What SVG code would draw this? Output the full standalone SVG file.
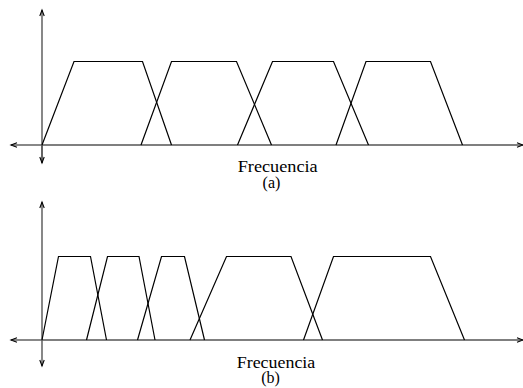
<svg xmlns="http://www.w3.org/2000/svg" width="523" height="388" viewBox="0 0 523 388">
<style>
.ax{stroke:#555;stroke-width:1.4;fill:none}
.tr{stroke:#000;stroke-width:1.2;fill:none;stroke-linejoin:miter}
.t{font-family:'Liberation Serif','Times New Roman',Times,serif;font-size:16px;fill:#000;text-anchor:middle}
</style>
<defs>
<marker id="arr" markerWidth="10" markerHeight="10" refX="8" refY="5" orient="auto" markerUnits="userSpaceOnUse">
<path d="M2,2.8 L8,5 L2,7.2" fill="none" stroke="#000" stroke-width="1.1"/>
</marker>
</defs>
<rect width="523" height="388" fill="#fff"/>
<g id="connectors">
<line class="ax" x1="42" y1="163" x2="42" y2="10" marker-end="url(#arr)"/>
<line class="ax" x1="42" y1="145" x2="42" y2="163" marker-end="url(#arr)"/>
<line class="ax" x1="42" y1="145" x2="11" y2="145" marker-end="url(#arr)"/>
<line class="ax" x1="42" y1="145" x2="523" y2="145" marker-end="url(#arr)"/>
<line class="ax" x1="42" y1="340" x2="42" y2="202" marker-end="url(#arr)"/>
<line class="ax" x1="42" y1="340" x2="42" y2="366" marker-end="url(#arr)"/>
<line class="ax" x1="42" y1="340" x2="11" y2="340" marker-end="url(#arr)"/>
<line class="ax" x1="42" y1="340" x2="523" y2="340" marker-end="url(#arr)"/>
</g>
<g id="panel-a">
<polyline class="tr" points="42,145 74,61.5 142.5,61.5 171.5,145"/>
<polyline class="tr" points="141,145 171.5,61.5 236.5,61.5 271.5,145"/>
<polyline class="tr" points="237.5,145 272.5,61.5 333.5,61.5 368.5,145"/>
<polyline class="tr" points="336,145 366,61.5 430.5,61.5 462.5,145"/>
</g>
<g id="panel-b">
<polyline class="tr" points="42,340 58.5,256.5 90.5,256.5 106.5,340"/>
<polyline class="tr" points="86.5,340 107.5,256.5 139,256.5 155,340"/>
<polyline class="tr" points="137.5,340 161.5,256.5 184.5,256.5 204.5,340"/>
<polyline class="tr" points="190,340 226.5,256.5 291,256.5 322.5,340"/>
<polyline class="tr" points="303.5,340 333.5,256.5 430.5,256.5 464.5,340"/>
</g>
<g id="labels">
<text class="t" x="277.7" y="172" textLength="80" lengthAdjust="spacingAndGlyphs">Frecuencia</text>
<text class="t" x="271.5" y="187.5">(a)</text>
<text class="t" x="276" y="367.5" textLength="78.5" lengthAdjust="spacingAndGlyphs">Frecuencia</text>
<text class="t" x="270.5" y="383">(b)</text>
</g>
</svg>
